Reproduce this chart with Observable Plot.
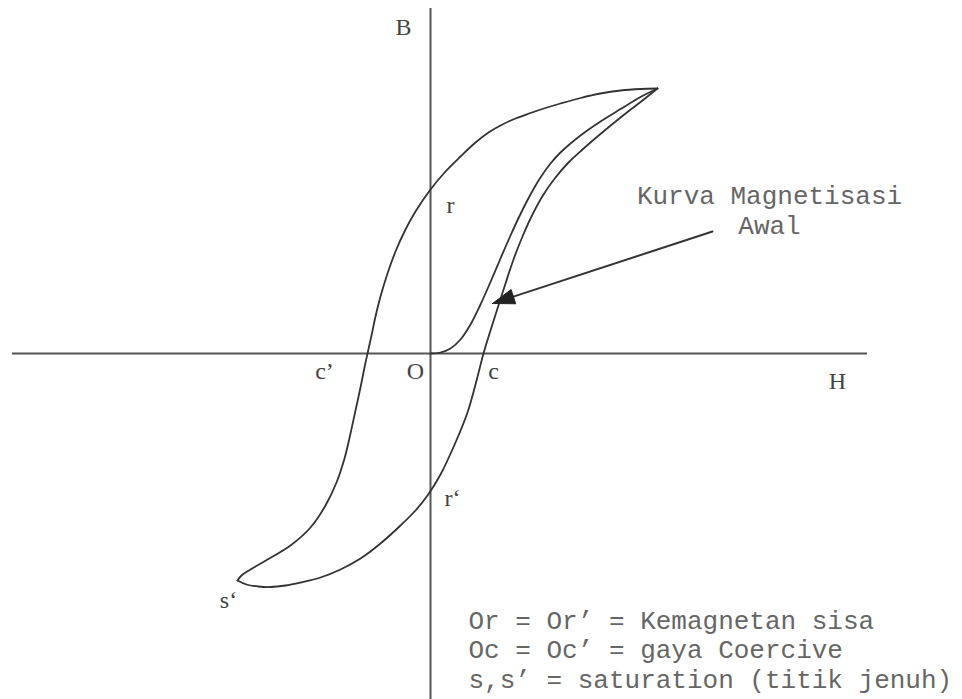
<!DOCTYPE html>
<html><head><meta charset="utf-8">
<script src="https://cdn.jsdelivr.net/npm/d3@7"></script>
<script src="https://cdn.jsdelivr.net/npm/@observablehq/plot@0.6"></script>
<style>body{margin:0;background:#fff}</style>
</head><body><div id="chart"></div>
<script>
// Hysteresis loop (H horizontal, B vertical), arbitrary units
const descH = [227,210,190,170,150,130,115,100,85,70,58,45,30,15,0,-15,-25,-35,-43,-50,-55,-59,-63,-66,-70,-75,-80,-86,-94,-105,-120,-140,-163,-180,-189,-193];
const descB = [265,264.5,263,260,255.5,250,245.5,240.5,235,228,221,211,197,182,164,142,124,102,80,57,37,18,0,-14,-34,-57,-80,-105,-129,-152,-174,-192,-206,-216,-222,-227];
const ascH = [-193,-184,-172,-160,-145,-130,-110,-90,-70,-50,-30,-15,-3,10,25,37,45,53,60,67,75,83,92,102,113,125,138,152,167,182,197,212,227];
const ascB = [-227,-231,-233,-233.5,-232,-229,-224,-216,-205,-190,-172,-157,-142,-121,-89,-59,-31,0,23,45,70,94,117,139,159,176,191,204,217,229.5,241.5,253,265];
const initH = [0,10,20,30,40,50,60,70,80,90,100,110,120,130,150,170,190,210,227];
const initB = [0,1,5,14,29,49,71.5,95,118,139.5,159,176,190,201,218,232,244.4,256.5,265];

const axisH = [-418, 437];   // extent of H axis
const axisB = [-346, 345];   // extent of B axis

const pointLabels = ["B", "r", "c’", "O", "c", "H", "r‘", "s‘"];
const pointLabelH = [-27, 20, -106, -15, 63, 407, 22, -202];
const pointLabelB = [319, 141, -25, -25, -25, -35, -152, -254];

const noteLines = ["Kurva Magnetisasi", "Awal"];
const noteH = [339, 339];
const noteB = [150, 120];

const arrowFrom = [282, 122];
const arrowTo = [62, 50];

const legendLines = ["Or = Or’ = Kemagnetan sisa", "Oc = Oc’ = gaya Coercive", "s,s’ = saturation (titik jenuh)"];
const legendH = 38;
const legendB = [-275, -304, -334];

const toPts = (hs, bs) => hs.map((h, i) => ({H: h, B: bs[i]}));

// arrowhead triangle derived from arrow endpoints
const dx = arrowTo[0] - arrowFrom[0], dy = arrowTo[1] - arrowFrom[1];
const len = Math.hypot(dx, dy);
const ux = dx / len, uy = dy / len;
const headL = 22, headW = 7.5;
const bx = arrowTo[0] - headL * ux, by = arrowTo[1] - headL * uy;
const head = [
  {H: arrowTo[0], B: arrowTo[1]},
  {H: bx - headW * uy, B: by + headW * ux},
  {H: bx + headW * uy, B: by - headW * ux},
  {H: arrowTo[0], B: arrowTo[1]}
];

const chart = Plot.plot({
  width: 962,
  height: 699,
  margin: 0,
  style: {background: "#fff"},
  x: {domain: [-430, 532], axis: null},
  y: {domain: [-346, 353], axis: null},
  marks: [
    Plot.ruleY([0], {x1: axisH[0], x2: axisH[1], stroke: "#555", strokeWidth: 2}),
    Plot.ruleX([0], {y1: axisB[0], y2: axisB[1], stroke: "#555", strokeWidth: 2}),
    Plot.line(toPts(descH, descB), {x: "H", y: "B", curve: "catmull-rom", stroke: "#333", strokeWidth: 1.8}),
    Plot.line(toPts(ascH, ascB), {x: "H", y: "B", curve: "catmull-rom", stroke: "#333", strokeWidth: 1.8}),
    Plot.line(toPts(initH, initB), {x: "H", y: "B", curve: "catmull-rom", stroke: "#333", strokeWidth: 1.8}),
    Plot.line([{H: arrowFrom[0], B: arrowFrom[1]}, {H: bx, B: by}], {x: "H", y: "B", stroke: "#333", strokeWidth: 2}),
    Plot.line(head, {x: "H", y: "B", fill: "#222", stroke: "#222", strokeWidth: 1}),
    Plot.text(pointLabels, {x: (d, i) => pointLabelH[i], y: (d, i) => pointLabelB[i], text: d => d,
      fontFamily: "Liberation Serif", fontSize: 24, fill: "#444", textAnchor: "middle", lineAnchor: "bottom"}),
    Plot.text(noteLines, {x: (d, i) => noteH[i], y: (d, i) => noteB[i], text: d => d,
      fontFamily: "Liberation Mono", fontSize: 26, fill: "#666", textAnchor: "middle", lineAnchor: "bottom"}),
    Plot.text(legendLines, {x: legendH, y: (d, i) => legendB[i], text: d => d,
      fontFamily: "Liberation Mono", fontSize: 26, fill: "#666", textAnchor: "start", lineAnchor: "bottom"})
  ]
});
document.getElementById("chart").append(chart);
</script></body></html>
